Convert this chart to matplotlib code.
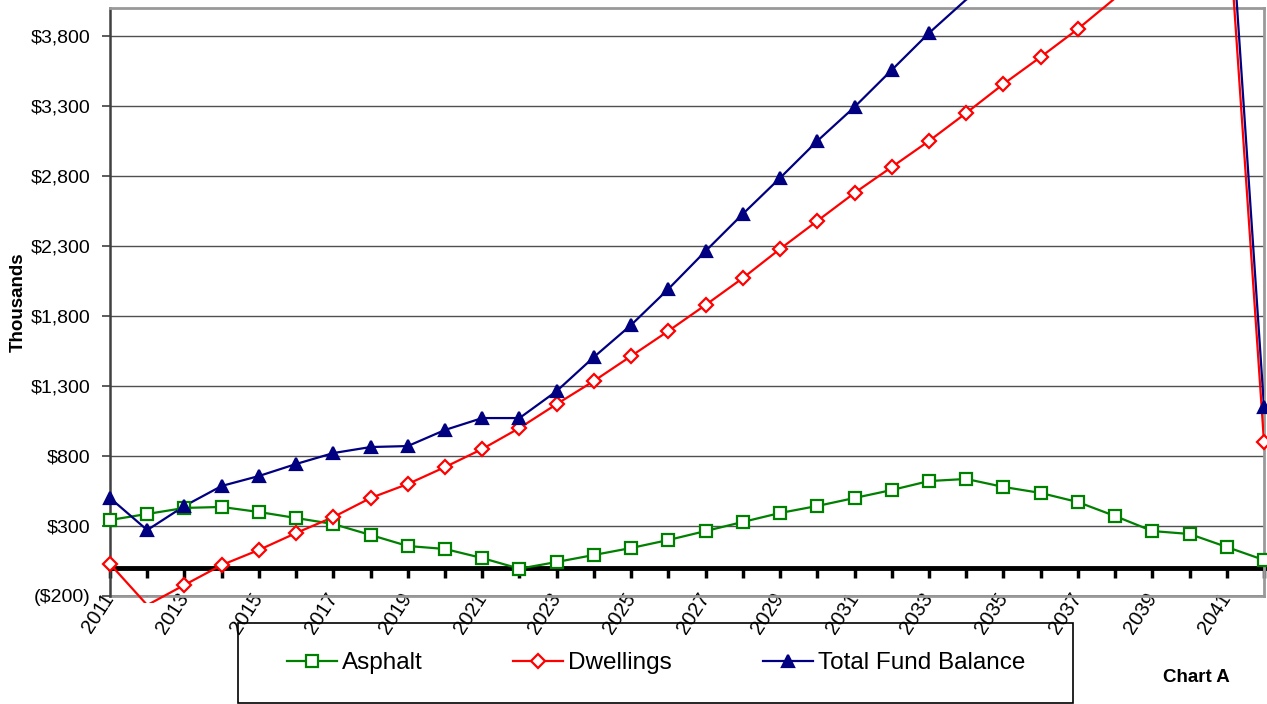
import matplotlib
matplotlib.use("Agg")
import matplotlib.pyplot as plt
from matplotlib.patches import Rectangle

plt.rcParams['font.family'] = ['Liberation Sans', 'DejaVu Sans']

# Fund balances by year, in thousands of dollars
years = list(range(2011, 2043))
asphalt = [343, 386, 429, 436, 400, 357, 314, 236, 157, 136, 71, -5, 43, 93, 143, 200,
           264, 329, 393, 443, 500, 557, 621, 636, 579, 536, 471, 371, 264, 243, 150, 57]
dwellings = [29, -265, -121, 21, 129, 250, 364, 500, 600, 721, 850, 1000, 1171, 1336, 1514, 1693,
             1879, 2071, 2279, 2479, 2679, 2864, 3050, 3250, 3457, 3650, 3850, 4070, 4300, 4540, 4790, 900]
total = [500, 271, 443, 586, 657, 743, 821, 864, 871, 986, 1071, 1071, 1264, 1507, 1736, 1993,
         2264, 2529, 2786, 3050, 3293, 3557, 3821, 4060, 4200, 4350, 4480, 4600, 4720, 4930, 5100, 1150]
y_ticks = list(range(-200, 4001, 500))

W, H = 1267, 704
fig = plt.figure(figsize=(W / 100, H / 100), dpi=100)
ax = fig.add_axes([110 / W, 1 - 596 / H, (1264 - 110) / W, 588 / H])

series = [
    ("Asphalt", asphalt, "#008000", "s", 8, "white"),
    ("Dwellings", dwellings, "#ff0000", "D", 7.5, "white"),
    ("Total Fund Balance", total, "#000080", "^", 9, "#000080"),
]
# lines may run past the plot frame, markers stay inside it
line_clip = Rectangle((0, -0.012), 1, 1.2, transform=ax.transAxes)
mark_clip = Rectangle((-0.02, 0), 1.04, 1.0, transform=ax.transAxes)
handles = []
for name, vals, col, mk, ms, fc in series:
    ln, = ax.plot(years, vals, color=col, lw=1.6, zorder=3)
    ln.set_clip_path(line_clip)
    mk_ln, = ax.plot(years, vals, ls="none", marker=mk, ms=ms, mfc=fc, mec=col, mew=1.6, zorder=4)
    mk_ln.set_clip_path(mark_clip)
    h, = ax.plot([], [], color=col, lw=1.6, marker=mk, ms=ms, mfc=fc, mec=col, mew=1.6, label=name)
    handles.append(h)

ax.set_xlim(2011, 2042)
ax.set_ylim(-200, 4000)
ax.set_yticks(y_ticks)
ax.set_yticklabels([f"${v:,}" if v >= 0 else f"(${-v:,})" for v in y_ticks], fontsize=14)
ax.yaxis.grid(True, color="#505050", lw=1.0)
ax.set_axisbelow(True)
ax.tick_params(axis="y", direction="out", length=6, width=1.2, color="#404040", pad=8)
ax.set_ylabel("Thousands", fontsize=13.5, fontweight="bold")
ax.yaxis.set_label_coords(-0.072, 0.5)

# thick zero line carrying the year ticks
ax.spines["bottom"].set_position(("data", 0))
ax.spines["bottom"].set_linewidth(3.5)
ax.spines["bottom"].set_zorder(2)
ax.set_xticks(years)
ax.tick_params(axis="x", direction="out", length=7, width=2.5, color="black", labelbottom=False)

for side in ("top", "right"):
    ax.spines[side].set_color("#999999")
    ax.spines[side].set_linewidth(2)
ax.spines["left"].set_color("#404040")
ax.spines["left"].set_linewidth(1.8)

# year labels along the bottom of the frame
sec = ax.secondary_xaxis(0.0)
sec.set_xticks(years[::2])
sec.set_xticklabels([str(y) for y in years[::2]], fontsize=14.5)
sec.tick_params(axis="x", length=0, pad=-1)
sec.spines["bottom"].set_color("#999999")
sec.spines["bottom"].set_linewidth(2)
for lbl in sec.get_xticklabels():
    lbl.set_rotation(57)
    lbl.set_rotation_mode("anchor")
    lbl.set_ha("right")
    lbl.set_va("center")

# legend box
fig.patches.append(Rectangle((238 / W, 1 - 703 / H), 835 / W, 80 / H, transform=fig.transFigure,
                             fill=False, edgecolor="black", lw=1.2))
fig.legend(handles=handles, loc="center", bbox_to_anchor=(656 / W, 1 - 663 / H), ncol=3,
           frameon=False, fontsize=17.5, handlelength=2.05, handletextpad=0.2, columnspacing=3.75)

fig.text(1196 / W, 1 - 678 / H, "Chart A", fontsize=13.5, fontweight="bold", ha="center", va="center")

fig.savefig("out.png", dpi=100)
